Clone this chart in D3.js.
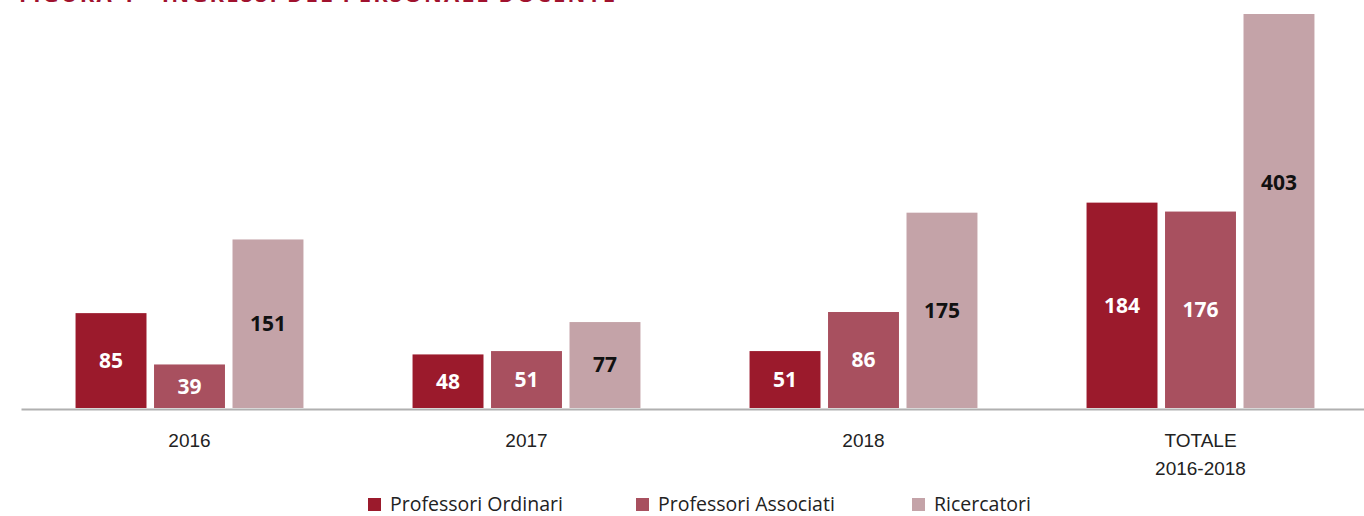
<!DOCTYPE html>
<html>
<head>
<meta charset="utf-8">
<script src="https://cdn.jsdelivr.net/npm/d3@7"></script>
<style>
  body { margin: 0; background: #fff; }
  svg { display: block; font-family: "Open Sans", "Noto Sans", sans-serif; }
</style>
</head>
<body>
<div id="vis"></div>
<script>
// frame constants
const FRAME_WIDTH = 1364;
const FRAME_HEIGHT = 516;
const PLOT = {left: 21, right: 1369, top: 14, base: 408};

// data
const CATEGORIES = ["2016", "2017", "2018", "TOTALE\n2016-2018"];
const SERIES = ["Professori Ordinari", "Professori Associati", "Ricercatori"];
const ORDINARI = [85, 48, 51, 184];
const ASSOCIATI = [39, 51, 86, 176];
const RICERCATORI = [151, 77, 175, 403];
const COLORS = ["#9b1a2c", "#a8505f", "#c4a3a8"];
const LABEL_COLORS = ["#ffffff", "#ffffff", "#111111"];
const Y_MAX = 353; // axis max of the original chart, taller bars are cut

const values = [ORDINARI, ASSOCIATI, RICERCATORI];
const data = [];
CATEGORIES.forEach((c, i) => {
  SERIES.forEach((s, j) => {
    data.push({cat: c, series: s, idx: j, value: values[j][i]});
  });
});

const FRAME = d3.select("#vis")
  .append("svg")
    .attr("width", FRAME_WIDTH)
    .attr("height", FRAME_HEIGHT);

// title (cut off at the top in the original)
FRAME.append("text")
  .attr("x", 19)
  .attr("y", 2)
  .attr("font-size", 22)
  .attr("font-weight", "bold")
  .attr("fill", "#a0122e")
  .attr("textLength", 596)
  .text("FIGURA 1 - INGRESSI DEL PERSONALE DOCENTE");

// scales
const X_SCALE = d3.scaleBand()
  .domain(CATEGORIES)
  .range([PLOT.left, PLOT.right]);

const X_INNER = d3.scaleBand()
  .domain(SERIES)
  .range([0, X_SCALE.bandwidth()])
  .paddingInner(0.096)
  .paddingOuter(0.695);

const Y_SCALE = d3.scaleLinear()
  .domain([0, Y_MAX])
  .range([PLOT.base, PLOT.top]);

const Y_LABEL = d3.scaleLinear()   // unclamped, for label centring
  .domain([0, Y_MAX])
  .range([PLOT.base, PLOT.top]);

const color = d3.scaleOrdinal().domain(SERIES).range(COLORS);

// bars
FRAME.append("g")
  .selectAll("rect")
  .data(data)
  .enter()
  .append("rect")
    .attr("x", (d) => X_SCALE(d.cat) + X_INNER(d.series))
    .attr("y", (d) => Y_SCALE(Math.min(d.value, Y_MAX)))
    .attr("width", X_INNER.bandwidth())
    .attr("height", (d) => PLOT.base - Y_SCALE(Math.min(d.value, Y_MAX)))
    .attr("fill", (d) => color(d.series));

// value labels, centred on each bar
FRAME.append("g")
  .selectAll("text")
  .data(data)
  .enter()
  .append("text")
    .attr("x", (d) => X_SCALE(d.cat) + X_INNER(d.series) + X_INNER.bandwidth() / 2)
    .attr("y", (d) => (PLOT.base + Y_LABEL(d.value)) / 2)
    .attr("dy", "0.35em")
    .attr("text-anchor", "middle")
    .attr("font-size", 21)
    .attr("font-weight", "bold")
    .attr("fill", (d) => LABEL_COLORS[d.idx])
    .text((d) => d.value);

// x axis
const xAxis = FRAME.append("g")
  .attr("transform", "translate(0," + (PLOT.base + 1) + ")")
  .call(d3.axisBottom(X_SCALE).tickSize(0).tickFormat(""));

xAxis.select(".domain")
  .attr("stroke", "#b0b0b0")
  .attr("stroke-width", 2);

xAxis.selectAll(".tick").each(function (d) {
  const lines = d.split("\n");
  const t = d3.select(this).append("text")
    .attr("fill", "#222")
    .attr("font-size", 19)
    .attr("text-anchor", "middle");
  lines.forEach((line, k) => {
    t.append("tspan")
      .attr("x", 0)
      .attr("y", 38 + k * 28)
      .text(line);
  });
});

// legend
const LEGEND_X = [368, 636, 912];
const legend = FRAME.append("g")
  .selectAll("g")
  .data(SERIES)
  .enter()
  .append("g")
    .attr("transform", (d, i) => "translate(" + LEGEND_X[i] + ",498)");

legend.append("rect")
  .attr("width", 13)
  .attr("height", 13)
  .attr("fill", (d) => color(d));

legend.append("text")
  .attr("x", 22)
  .attr("y", 13)
  .attr("font-size", 19.5)
  .attr("fill", "#222")
  .text((d) => d);
</script>
</body>
</html>
